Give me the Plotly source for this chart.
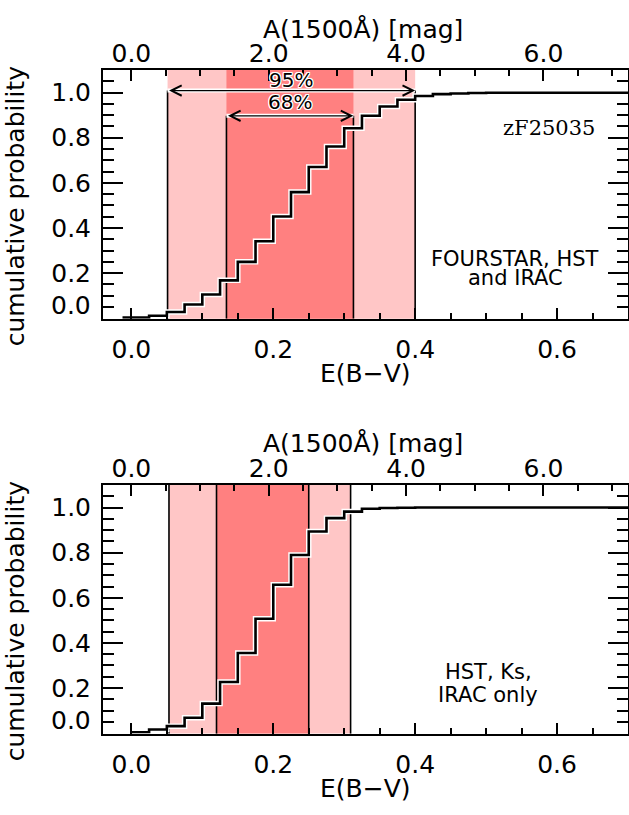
import plotly.graph_objects as go

# ---------------- data ----------------
K1500 = 10.33  # A(1500) = k * E(B-V)

ebv_top = [-0.0125, 0.025, 0.05, 0.075, 0.1, 0.125, 0.15, 0.175, 0.2, 0.225, 0.25,
           0.275, 0.3, 0.325, 0.35, 0.375, 0.4, 0.425, 0.45, 0.475, 0.5, 0.7]
cum_top = [0.003, 0.011, 0.028, 0.061, 0.105, 0.168, 0.250, 0.341, 0.451, 0.559, 0.670,
           0.761, 0.842, 0.897, 0.938, 0.968, 0.985, 0.993, 0.996, 0.998, 0.999, 0.999]
ci95_top = [0.051, 0.400]
ci68_top = [0.134, 0.313]

ebv_bot = [0.0, 0.025, 0.05, 0.075, 0.1, 0.125, 0.15, 0.175, 0.2, 0.225, 0.25,
           0.275, 0.3, 0.325, 0.35, 0.375, 0.4, 0.7]
cum_bot = [0.004, 0.016, 0.031, 0.068, 0.131, 0.227, 0.355, 0.507, 0.658, 0.790, 0.894,
           0.953, 0.982, 0.995, 0.998, 0.999, 1.0, 1.0]
ci95_bot = [0.053, 0.309]
ci68_bot = [0.120, 0.250]

ebv_range = [-0.04, 0.70]
prob_range = [-0.002, 1.1]
ebv_ticks = [0.0, 0.2, 0.4, 0.6]
a_ticks = [0.0, 2.0, 4.0, 6.0]
prob_ticks = [0.0, 0.2, 0.4, 0.6, 0.8, 1.0]
prob_ticktext = ["", "0.2", "0.4", "0.6", "0.8", "1.0"]

label_top = ["FOURSTAR, HST", "and IRAC"]
label_bot = ["HST, Ks,", "IRAC only"]
object_name = "zF25035"
xtitle = "E(B−V)"
x2title = "A(1500Å) [mag]"
ytitle = "cumulative probability"

# ---------------- style ----------------
SANS = "DejaVu Sans"
SERIF = "DejaVu Serif"
FS = 25
LIGHT = "#FFC6C6"
DARK = "#FF8080"
W, H = 629, 815
ML, MR = 103, 1
PW = W - ML - MR
top_px = [70, 318.7]
bot_px = [485, 733.6]
dom_top = [1 - top_px[1] / H, 1 - top_px[0] / H]
dom_bot = [1 - bot_px[1] / H, 1 - bot_px[0] / H]
halo = ("1px 1px 0 white, -1px -1px 0 white, 1px -1px 0 white, -1px 1px 0 white, "
        "0 1px 0 white, 0 -1px 0 white, 1px 0 0 white, -1px 0 0 white")


def px2paper_y(py):
    return 1 - py / H


def px2paper_x(px):
    return (px - ML) / PW


fig = go.Figure()

panels = [
    dict(x=ebv_top, y=cum_top, ci95=ci95_top, ci68=ci68_top, xa="x", xa2="x2", ya="y",
         arrows=True, lab=label_top, lab_x=0.541, lab_y=[0.262, 0.180], px=top_px),
    dict(x=ebv_bot, y=cum_bot, ci95=ci95_bot, ci68=ci68_bot, xa="x3", xa2="x4", ya="y2",
         arrows=False, lab=label_bot, lab_x=0.503, lab_y=[0.270, 0.170], px=bot_px),
]

shapes = []
annotations = []
arrow95_y, arrow68_y = 1.009, 0.897
tickfont = dict(family=SANS, size=FS, color="black")

for p in panels:
    xa, ya = p["xa"], p["ya"]
    # confidence bands
    for ci, col in ((p["ci95"], LIGHT), (p["ci68"], DARK)):
        shapes.append(dict(type="rect", xref=xa, yref=f"{ya} domain", x0=ci[0], x1=ci[1],
                           y0=0, y1=1, fillcolor=col, line_width=0, layer="below"))
    # vertical boundary lines
    for ci, ytop in ((p["ci95"], arrow95_y), (p["ci68"], arrow68_y)):
        for xv in ci:
            if p["arrows"]:
                shapes.append(dict(type="line", xref=xa, yref=ya, x0=xv, x1=xv,
                                   y0=prob_range[0], y1=ytop,
                                   line=dict(color="black", width=1.6), layer="below"))
            else:
                shapes.append(dict(type="line", xref=xa, yref=f"{ya} domain", x0=xv, x1=xv,
                                   y0=0, y1=1, line=dict(color="black", width=1.6),
                                   layer="below"))
    # step function (white outline + black line)
    fig.add_trace(go.Scatter(x=p["x"], y=p["y"], xaxis=xa, yaxis=ya, mode="lines",
                             line=dict(color="white", width=5.5, shape="hv"),
                             hoverinfo="skip", showlegend=False))
    fig.add_trace(go.Scatter(x=p["x"], y=p["y"], xaxis=xa, yaxis=ya, mode="lines",
                             line=dict(color="black", width=2.6, shape="hv"),
                             showlegend=False))
    # register top (A1500) axis
    fig.add_trace(go.Scatter(x=[], y=[], xaxis=p["xa2"], yaxis=ya, showlegend=False))

    # arrows
    if p["arrows"]:
        for ci, yv, txt, ty in ((p["ci95"], arrow95_y, "95%", 1.055),
                                (p["ci68"], arrow68_y, "68%", 0.957)):
            shapes.append(dict(type="line", xref=xa, yref=ya, x0=ci[0], x1=ci[1], y0=yv, y1=yv,
                               line=dict(color="white", width=4), layer="above"))
            annotations.append(dict(x=ci[1], y=yv, ax=ci[0], ay=yv, xref=xa, yref=ya,
                                    axref=xa, ayref=ya, text="", showarrow=True,
                                    arrowhead=5, startarrowhead=5, arrowside="end+start",
                                    arrowsize=1.7, startarrowsize=1.7, arrowwidth=1.2,
                                    arrowcolor="black", standoff=0, startstandoff=0))
            annotations.append(dict(x=(ci[0] + ci[1]) / 2, y=ty, xref=xa, yref=ya, text=txt,
                                    showarrow=False, xanchor="center", yanchor="middle",
                                    font=dict(family=SANS, size=20, color="black",
                                              shadow=halo)))
        annotations.append(dict(x=0.656, y=0.843, xref=xa, yref=ya, text=object_name,
                                showarrow=False, xanchor="right", yanchor="middle",
                                font=dict(family=SERIF, size=21, color="black")))
    for t, yv in zip(p["lab"], p["lab_y"]):
        annotations.append(dict(x=p["lab_x"], y=yv, xref=xa, yref=ya, text=t, showarrow=False,
                                xanchor="center", yanchor="middle",
                                font=dict(family=SANS, size=21, color="black")))
    # "0.0" y label (drawn slightly raised as in the original)
    annotations.append(dict(x=px2paper_x(93), y=0.055, xref="paper", yref=ya, text="0.0",
                            showarrow=False, xanchor="right", yanchor="middle",
                            font=tickfont))
    # y title
    annotations.append(dict(x=px2paper_x(15), y=px2paper_y((p["px"][0] + p["px"][1]) / 2 + 12),
                            xref="paper", yref="paper", text=ytitle,
                            textangle=-90, showarrow=False, xanchor="center",
                            yanchor="middle", font=tickfont))
    # x titles (bottom E(B-V), top A1500)
    annotations.append(dict(x=px2paper_x(365), y=px2paper_y(p["px"][1] + 55),
                            xref="paper", yref="paper", text=xtitle, showarrow=False,
                            xanchor="center", yanchor="middle", font=tickfont))
    annotations.append(dict(x=px2paper_x(363), y=px2paper_y(p["px"][0] - 41),
                            xref="paper", yref="paper", text=x2title, showarrow=False,
                            xanchor="center", yanchor="middle", font=tickfont))

a_range = [v * K1500 for v in ebv_range]


def ebv_axis(anchor):
    return dict(anchor=anchor, range=ebv_range, tickmode="array", tickvals=ebv_ticks,
                ticktext=[f"{v:.1f}" for v in ebv_ticks], ticks="inside", ticklen=11,
                tickwidth=1.5, tickcolor="black",
                minor=dict(dtick=0.05, tick0=0, ticks="inside", ticklen=6, tickwidth=1.5,
                           tickcolor="black"),
                showline=True, linewidth=2, linecolor="black", mirror=True, showgrid=False,
                zeroline=False, tickfont=tickfont, ticklabelstandoff=7)


def a_axis(over, anchor):
    return dict(overlaying=over, anchor=anchor, side="top", range=a_range, tickmode="array",
                tickvals=a_ticks, ticktext=[f"{v:.1f}" for v in a_ticks], ticks="inside",
                ticklen=11, tickwidth=1.5, tickcolor="black",
                minor=dict(dtick=0.5, tick0=0, ticks="inside", ticklen=6, tickwidth=1.5,
                           tickcolor="black"),
                showline=True, linewidth=2, linecolor="black", showgrid=False,
                zeroline=False, tickfont=tickfont, ticklabelstandoff=-4)


def prob_axis(anchor, dom):
    return dict(anchor=anchor, domain=dom, range=prob_range, tickmode="array",
                tickvals=prob_ticks, ticktext=prob_ticktext, ticks="inside", ticklen=20,
                tickwidth=1.5, tickcolor="black",
                minor=dict(dtick=0.05, tick0=0, ticks="inside", ticklen=11, tickwidth=1.5,
                           tickcolor="black"),
                showline=True, linewidth=2, linecolor="black", mirror="ticks",
                showgrid=False, zeroline=False, tickfont=tickfont, ticklabelstandoff=5)


fig.update_layout(
    template="none",
    width=W, height=H,
    margin=dict(l=ML, r=MR, t=0, b=0),
    paper_bgcolor="white", plot_bgcolor="white",
    showlegend=False,
    xaxis=ebv_axis("y"),
    xaxis2=a_axis("x", "y"),
    xaxis3=ebv_axis("y2"),
    xaxis4=a_axis("x3", "y2"),
    yaxis=prob_axis("x", dom_top),
    yaxis2=prob_axis("x3", dom_bot),
    shapes=shapes,
    annotations=annotations,
)

fig.write_html("out.html")
